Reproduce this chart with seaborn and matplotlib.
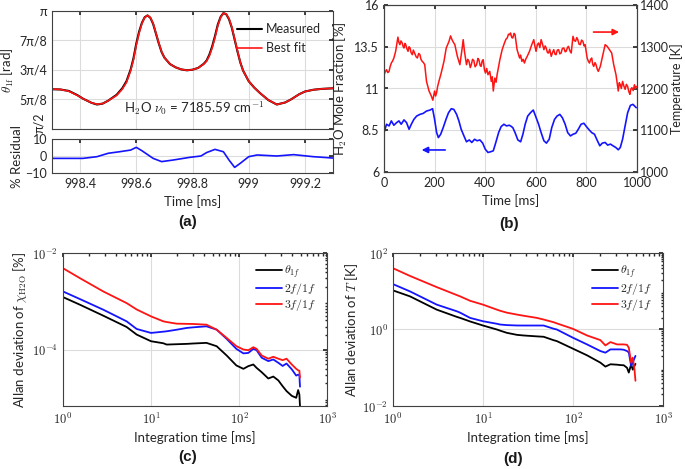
import numpy as np
import matplotlib
matplotlib.use("Agg")
import matplotlib.pyplot as plt
import seaborn as sns

# panel (a): phase of the 1f signal, in units of pi/8
t_a = [998.29, 998.33, 998.36, 998.39, 998.41, 998.44, 998.46, 998.48, 998.50, 998.53,
       998.55, 998.565, 998.58, 998.59, 998.60, 998.61, 998.62, 998.63, 998.64, 998.65,
       998.66, 998.67, 998.68, 998.69, 998.70, 998.72, 998.74, 998.76, 998.78, 998.80,
       998.82, 998.84, 998.85, 998.86, 998.87, 998.88, 998.89, 998.90, 998.91, 998.92,
       998.93, 998.94, 998.95, 998.96, 998.97, 998.98, 999.00, 999.02, 999.04, 999.07,
       999.10, 999.13, 999.15, 999.18, 999.20, 999.23, 999.26, 999.30]
theta_meas = [5.35, 5.34, 5.29, 5.15, 5.03, 4.89, 4.83, 4.86, 4.96, 5.16,
              5.38, 5.62, 6.02, 6.40, 6.90, 7.30, 7.60, 7.79, 7.85, 7.77,
              7.56, 7.23, 6.90, 6.61, 6.42, 6.20, 6.09, 6.02, 5.99, 6.01,
              6.07, 6.21, 6.32, 6.52, 6.80, 7.15, 7.54, 7.80, 7.93, 7.89,
              7.72, 7.43, 7.03, 6.63, 6.26, 5.98, 5.62, 5.40, 5.22, 4.98,
              4.83, 4.90, 5.00, 5.18, 5.27, 5.33, 5.36, 5.38]
theta_fit = [5.36, 5.34, 5.28, 5.14, 5.03, 4.89, 4.84, 4.86, 4.96, 5.14,
             5.35, 5.58, 5.98, 6.35, 6.85, 7.25, 7.58, 7.78, 7.85, 7.78,
             7.58, 7.25, 6.92, 6.62, 6.42, 6.20, 6.09, 6.02, 5.99, 6.01,
             6.07, 6.20, 6.30, 6.48, 6.75, 7.10, 7.50, 7.78, 7.93, 7.90,
             7.74, 7.45, 7.05, 6.65, 6.27, 5.98, 5.62, 5.40, 5.22, 4.98,
             4.83, 4.90, 5.00, 5.18, 5.27, 5.33, 5.36, 5.38]
pi_labels = ["", "5π/8", "3π/4", "7π/8", "π"]

t_res = [998.29, 998.41, 998.46, 998.50, 998.54, 998.58, 998.60, 998.62, 998.66, 998.69,
         998.73, 998.79, 998.83, 998.85, 998.88, 998.91, 998.93, 998.95, 998.97, 999.00,
         999.03, 999.10, 999.16, 999.23, 999.30]
residual = [-1.4, -1.4, -0.4, 1.6, 2.5, 3.5, 5.1, 3.1, -1.4, -3.3,
            -2.4, -0.8, 0.0, 2.0, 3.9, 2.5, -2.4, -6.7, -4.3, -0.4,
            0.6, 0.0, 0.8, -0.4, -1.2]

# panel (b): time series
t_temp = [0, 5, 10, 15, 20, 24, 29, 34, 39, 46, 55, 59, 63, 67, 72, 76, 79, 83, 86, 90,
          95, 99, 103, 107, 112, 116, 121, 127, 132, 137, 142, 146, 151, 156, 161, 168,
          178, 187, 193, 200, 204, 208, 212, 217, 226, 237, 246, 257, 263, 268, 272, 280,
          290, 300, 309, 313, 318, 326, 331, 336, 341, 345, 350, 355, 360, 366, 371, 375,
          380, 384, 388, 392, 397, 401, 406, 411, 418, 424, 428, 432, 438, 443, 447, 452,
          458, 467, 476, 482, 487, 492, 497, 500, 505, 509, 514, 518, 526, 536, 540, 545,
          550, 555, 560, 566, 575, 584, 592, 597, 601, 606, 611, 616, 621, 627, 632, 637,
          641, 646, 650, 655, 661, 666, 671, 676, 680, 685, 690, 695, 700, 705, 711, 716,
          720, 725, 729, 735, 740, 747, 752, 757, 762, 766, 771, 776, 781, 786, 791, 795,
          803, 808, 812, 817, 821, 825, 829, 834, 838, 843, 847, 855, 865, 874, 882, 891,
          900, 908, 917, 926, 930, 934, 938, 943, 948, 953, 958, 963, 968, 972, 976, 980,
          985, 990, 994, 998]
temperature = [1233, 1240, 1245, 1238, 1241, 1252, 1261, 1266, 1273, 1289, 1323, 1310, 1305,
               1314, 1309, 1300, 1297, 1308, 1305, 1296, 1289, 1300, 1297, 1286, 1281, 1292,
               1285, 1276, 1273, 1284, 1281, 1270, 1265, 1262, 1257, 1217, 1194, 1182, 1172,
               1194, 1182, 1190, 1205, 1217, 1237, 1265, 1297, 1313, 1326, 1318, 1313, 1305,
               1277, 1257, 1297, 1317, 1289, 1257, 1270, 1265, 1250, 1257, 1270, 1267, 1252,
               1257, 1272, 1269, 1255, 1253, 1266, 1269, 1245, 1237, 1248, 1233, 1241, 1217,
               1228, 1194, 1225, 1215, 1233, 1250, 1269, 1293, 1309, 1318, 1321, 1330, 1329,
               1333, 1322, 1321, 1332, 1329, 1293, 1273, 1280, 1265, 1270, 1261, 1270, 1277,
               1289, 1305, 1317, 1300, 1289, 1305, 1309, 1298, 1317, 1305, 1293, 1302, 1297,
               1286, 1285, 1294, 1277, 1286, 1293, 1282, 1281, 1292, 1293, 1283, 1285, 1296,
               1297, 1288, 1289, 1298, 1301, 1290, 1285, 1325, 1315, 1313, 1322, 1317, 1306,
               1305, 1316, 1313, 1302, 1305, 1273, 1265, 1261, 1270, 1273, 1258, 1253, 1262,
               1257, 1246, 1241, 1253, 1281, 1305, 1301, 1293, 1285, 1257, 1233, 1194, 1214,
               1209, 1200, 1217, 1206, 1198, 1210, 1205, 1192, 1186, 1199, 1202, 1195, 1209,
               1200, 1205]

t_h2o = [0, 10, 20, 29, 39, 50, 59, 68, 79, 89, 99, 108, 118, 129, 142, 155, 168, 182, 192,
         200, 208, 215, 224, 234, 245, 255, 266, 276, 287, 296, 305, 316, 326, 337, 347,
         358, 368, 379, 390, 400, 411, 421, 432, 442, 453, 463, 474, 484, 495, 500, 509,
         518, 529, 540, 549, 558, 568, 579, 590, 600, 611, 621, 632, 642, 653, 663, 674,
         684, 695, 705, 716, 726, 737, 747, 758, 768, 779, 790, 800, 811, 821, 832, 842,
         853, 863, 874, 884, 895, 905, 916, 926, 934, 943, 953, 963, 974, 984, 997]
h2o = [8.36, 8.86, 8.76, 9.06, 8.80, 8.96, 9.06, 8.86, 9.12, 8.96, 8.56, 8.86, 9.15, 9.35,
       9.45, 9.51, 9.65, 9.71, 9.79, 9.15, 8.36, 8.06, 8.26, 8.66, 9.15, 9.55, 9.79, 9.75,
       9.45, 9.06, 8.56, 8.16, 7.81, 7.92, 7.77, 7.96, 7.87, 7.92, 7.73, 7.37, 7.17, 7.21,
       7.27, 7.77, 8.36, 8.72, 8.86, 8.76, 8.80, 8.76, 8.66, 8.36, 7.92, 7.81, 8.26, 8.86,
       9.35, 9.55, 9.71, 9.31, 8.86, 8.36, 7.87, 7.73, 7.96, 8.66, 9.15, 9.35, 9.45, 9.25,
       8.86, 8.36, 8.16, 8.26, 8.32, 8.56, 8.86, 8.92, 8.72, 8.52, 8.36, 8.26, 7.92, 7.57,
       7.73, 7.77, 7.61, 7.67, 7.57, 7.47, 7.33, 7.47, 7.96, 8.76, 9.55, 9.99, 10.05, 9.85]

# panel (c): Allan deviation of H2O (log10 values)
lt_c = [0.0, 0.193, 0.458, 0.723, 0.837, 1.0, 1.14, 1.178, 1.29, 1.405, 1.48, 1.63,
        1.746, 1.86, 1.97, 2.05, 2.106, 2.163, 2.20, 2.258, 2.333, 2.39, 2.447, 2.496,
        2.54, 2.60, 2.65, 2.672, 2.686, 2.693]
lc_1f = [-2.914, -3.072, -3.299, -3.533, -3.69, -3.828, -3.87, -3.897, -3.89, -3.883,
         -3.875, -3.862, -3.931, -4.124, -4.33, -4.40, -4.344, -4.31, -4.38, -4.47,
         -4.60, -4.56, -4.64, -4.76, -4.86, -4.96, -5.0, -4.84, -4.93, -5.17]
lc_2f = [-2.797, -2.955, -3.175, -3.416, -3.574, -3.656, -3.63, -3.622, -3.59, -3.553,
         -3.54, -3.519, -3.588, -3.78, -3.986, -4.08, -4.07, -3.986, -4.014, -4.17,
         -4.24, -4.206, -4.275, -4.34, -4.29, -4.41, -4.54, -4.52, -4.53, -4.77]
lc_3f = [-2.316, -2.522, -2.797, -3.038, -3.17, -3.313, -3.416, -3.43, -3.464, -3.468,
         -3.471, -3.485, -3.588, -3.76, -3.93, -4.0, -4.014, -3.952, -3.986, -4.124,
         -4.19, -4.15, -4.19, -4.22, -4.19, -4.31, -4.40, -4.43, -4.44, -4.58]

# panel (d): Allan deviation of temperature (log10 values)
lt_d = [0.0, 0.189, 0.486, 0.709, 0.746, 0.857, 1.0, 1.154, 1.19, 1.265, 1.377, 1.45,
        1.6, 1.674, 1.785, 1.82, 2.0, 2.156, 2.304, 2.36, 2.416, 2.49, 2.527, 2.564,
        2.60, 2.62, 2.646, 2.664, 2.683, 2.694]
ld_1f = [1.022, 0.866, 0.519, 0.33, 0.303, 0.21, 0.104, 0.0, -0.03, -0.087, -0.14, -0.156,
         -0.18, -0.19, -0.28, -0.303, -0.502, -0.675, -0.866, -0.97, -0.909, -0.92, -0.93,
         -0.935, -1.0, -1.126, -0.909, -1.05, -0.95, -0.90]
ld_2f = [1.186, 0.996, 0.65, 0.476, 0.44, 0.303, 0.216, 0.15, 0.13, 0.115, 0.105, 0.104,
         0.104, 0.104, 0.02, 0.0, -0.216, -0.39, -0.563, -0.606, -0.52, -0.52, -0.52,
         -0.53, -0.563, -0.60, -0.952, -0.866, -0.75, -0.69]
ld_3f = [1.602, 1.40, 1.108, 0.90, 0.866, 0.75, 0.65, 0.519, 0.49, 0.44, 0.39, 0.36,
         0.303, 0.26, 0.19, 0.16, 0.017, -0.156, -0.277, -0.416, -0.329, -0.39, -0.39,
         -0.39, -0.40, -0.476, -0.866, -0.736, -1.04, -1.34]

sns.set_theme(style="whitegrid")
plt.rcParams["font.family"] = ["Lato", "DejaVu Sans"]
plt.rcParams["mathtext.fontset"] = "cm"
plt.rcParams.update({
    "font.size": 9,
    "axes.edgecolor": "#404040",
    "axes.linewidth": 0.8,
    "axes.labelcolor": "#262626",
    "xtick.color": "#262626",
    "ytick.color": "#262626",
    "xtick.direction": "in",
    "ytick.direction": "in",
    "xtick.labelsize": 9,
    "ytick.labelsize": 9,
    "axes.labelsize": 9.5,
    "grid.color": "#dcdcdc",
    "grid.linewidth": 0.8,
})

RED = "#ff1414"
BLUE = "#1414ff"
W, H = 685, 469
fig = plt.figure(figsize=(W / 100, H / 100), dpi=100)


def box(l, t, r, b):
    return [l / W, 1 - b / H, (r - l) / W, (b - t) / H]


def frame(ax):
    for s in ax.spines.values():
        s.set_visible(True)
        s.set_color("#404040")
    ax.tick_params(which="both", top=True, right=True, direction="in", length=3)
    ax.tick_params(which="minor", length=1.8)


def tag(x, y, s):
    fig.text(x / W, 1 - y / H, s, ha="center", va="center", fontsize=11, weight="bold",
             family="Liberation Sans", color="#1a1a1a")


# (a) top
ax_a = fig.add_axes(box(52, 11, 333, 129))
sns.lineplot(x=t_a, y=np.array(theta_meas) * np.pi / 8, ax=ax_a, color="black", lw=1.5,
             label="Measured")
sns.lineplot(x=t_a, y=np.array(theta_fit) * np.pi / 8, ax=ax_a, color=RED, lw=1.2,
             label="Best fit")
ax_a.set_xlim(998.3, 999.3)
ax_a.set_ylim(np.pi / 2, np.pi)
ax_a.set_xticks([998.4, 998.6, 998.8, 999.0, 999.2])
ax_a.set_xticklabels([])
ax_a.set_yticks(np.arange(4, 9) * np.pi / 8, pi_labels)
# the pi/2 label sits rotated in the gap between the two axes
ax_a.text(-0.025, 0.05, "π/2", rotation=90, ha="right", va="center", fontsize=9,
          color="#262626", transform=ax_a.transAxes)
ax_a.set_ylabel(r"$\theta_{\rm 1f}$ [rad]", labelpad=2)
ax_a.text(998.807, 4.72 * np.pi / 8, r"H$_2$O $\nu_0$ = 7185.59 cm$^{-1}$", ha="center",
          va="center", fontsize=9.5, color="#262626")
ax_a.legend(loc="upper right", frameon=False, fontsize=9, handlelength=2.0,
            borderaxespad=0.6, labelspacing=0.55, handletextpad=0.3)
frame(ax_a)

# (a) residual
ax_r = fig.add_axes(box(52, 139, 333, 173))
sns.lineplot(x=t_res, y=residual, ax=ax_r, color=BLUE, lw=1.2)
ax_r.set_xlim(998.3, 999.3)
ax_r.set_ylim(-10, 10)
ax_r.set_yticks([-10, 0, 10])
ax_r.set_xticks([998.4, 998.6, 998.8, 999.0, 999.2], ["998.4", "998.6", "998.8", "999", "999.2"])
ax_r.set_ylabel("% Residual", labelpad=2)
ax_r.set_xlabel("Time [ms]")
frame(ax_r)
tag(188, 222, "(a)")

# (b)
ax_b = fig.add_axes(box(384, 5, 637, 172))
sns.lineplot(x=t_h2o, y=h2o, ax=ax_b, color=BLUE, lw=1.2)
ax_b.set_xlim(0, 1000)
ax_b.set_ylim(6, 16)
ax_b.set_yticks([6, 8.5, 11, 13.5, 16], ["6", "8.5", "11", "13.5", "16"])
ax_b.set_xticks([0, 200, 400, 600, 800, 1000])
ax_b.set_xlabel("Time [ms]")
ax_b.set_ylabel(r"H$_2$O Mole Fraction [%]", labelpad=4)
ax_b.annotate("", xy=(138, 7.32), xytext=(253, 7.32),
              arrowprops=dict(arrowstyle="-|>", color=BLUE, lw=1.2, mutation_scale=9))
ax_b.annotate("", xy=(940, 14.38), xytext=(817, 14.38),
              arrowprops=dict(arrowstyle="-|>", color=RED, lw=1.2, mutation_scale=9))
frame(ax_b)
ax_t = ax_b.twinx()
sns.lineplot(x=t_temp, y=temperature, ax=ax_t, color=RED, lw=1.1)
ax_t.set_ylim(1000, 1400)
ax_t.set_yticks([1000, 1100, 1200, 1300, 1400])
ax_t.grid(False)
ax_t.set_ylabel("Temperature [K]", labelpad=1, fontsize=9)
ax_t.tick_params(direction="in", length=3, pad=2)
ax_b.tick_params(right=False)
tag(509, 224, "(b)")

# (c) and (d)
legend_labels = [r"$\theta_{1f}$", r"$2f/1f$", r"$3f/1f$"]
log_ticks = [r"$10^{0}$", r"$10^{1}$", r"$10^{2}$", r"$10^{3}$"]
panels = [
    (box(63, 253, 327, 406), lt_c, [lc_1f, lc_2f, lc_3f], (10 ** -5.17, 1e-2),
     [1e-4, 1e-2], [r"$10^{-4}$", r"$10^{-2}$"], r"Allan deviation of $\chi_{\rm H2O}$ [%]",
     (188, 457), "(c)"),
    (box(393, 253, 663, 406), lt_d, [ld_1f, ld_2f, ld_3f], (1e-2, 1e2),
     [1e-2, 1e0, 1e2], [r"$10^{-2}$", r"$10^{0}$", r"$10^{2}$"],
     r"Allan deviation of $T$ [K]", (513, 459), "(d)"),
]
for pos, lt, series, ylim, yt, ytl, ylab, lpos, name in panels:
    ax = fig.add_axes(pos)
    for vals, col, lab in zip(series, ["black", BLUE, RED], legend_labels):
        sns.lineplot(x=10 ** np.array(lt), y=10 ** np.array(vals), ax=ax, color=col,
                     lw=1.3, label=lab)
    ax.set_xscale("log")
    ax.set_yscale("log")
    ax.set_xlim(1, 1000)
    ax.set_ylim(*ylim)
    ax.set_xticks([1, 10, 100, 1000], log_ticks)
    ax.set_yticks(yt, ytl)
    ax.xaxis.set_minor_locator(matplotlib.ticker.LogLocator(subs=np.arange(2, 10)))
    ax.yaxis.set_minor_locator(matplotlib.ticker.LogLocator(subs=np.arange(2, 10)))
    ax.grid(True, which="major")
    ax.grid(False, which="minor")
    ax.set_xlabel("Integration time [ms]")
    ax.set_ylabel(ylab, labelpad=2)
    ax.legend(loc="upper right", frameon=False, fontsize=8.5, handlelength=2.2,
              borderaxespad=0.5, labelspacing=0.05, handletextpad=0.2)
    frame(ax)
    tag(lpos[0], lpos[1], name)

fig.savefig("out.png", dpi=100)
